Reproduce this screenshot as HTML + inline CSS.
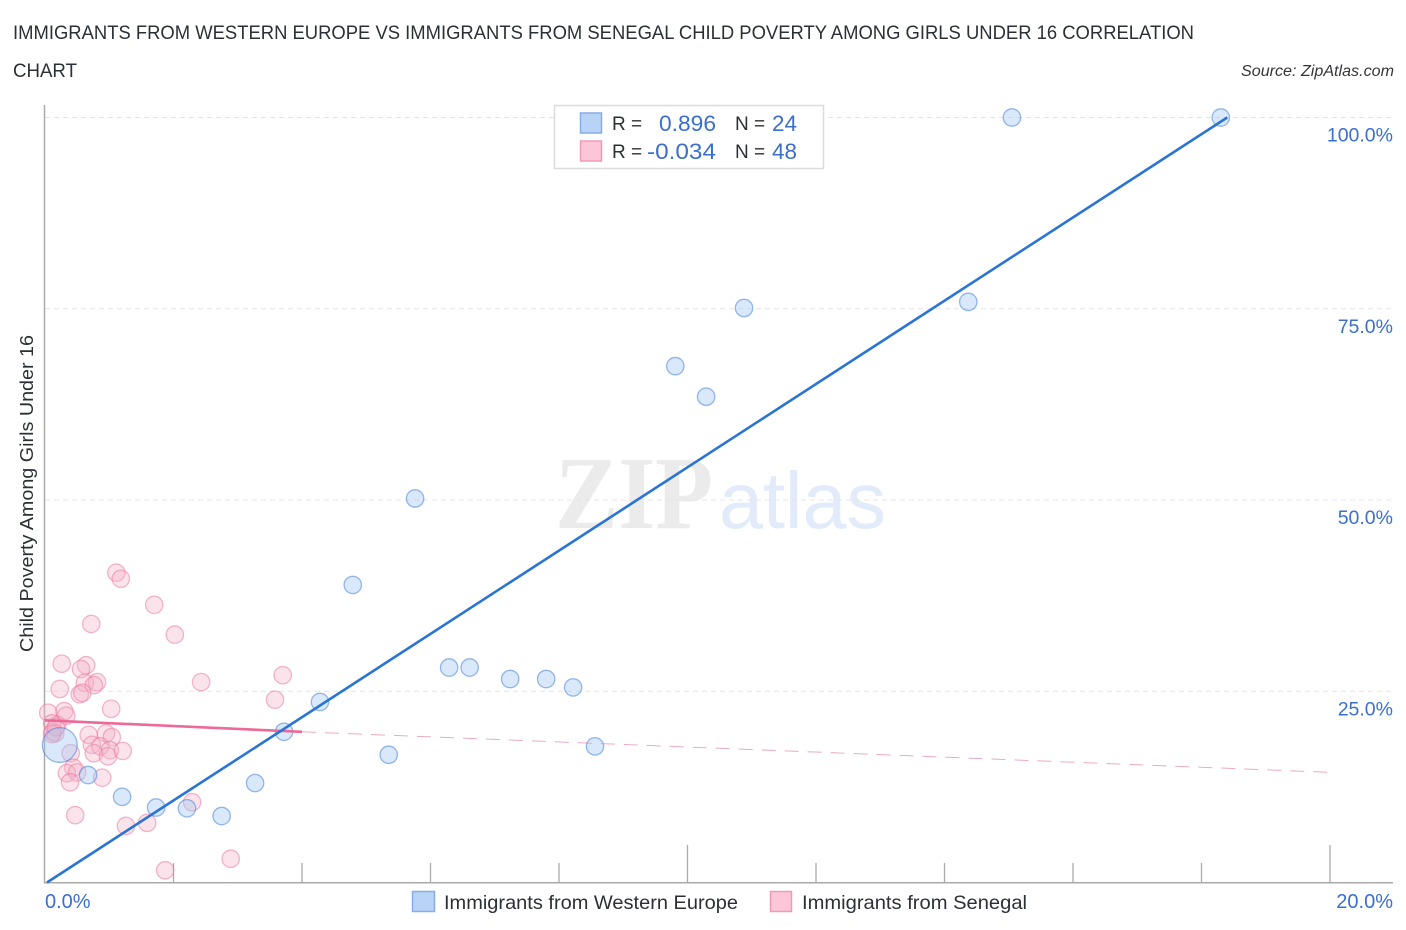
<!DOCTYPE html>
<html>
<head>
<meta charset="utf-8">
<title>Child Poverty Correlation Chart</title>
<style>
html,body{margin:0;padding:0;background:#fff;width:1406px;height:930px;overflow:hidden}
svg{display:block;font-family:"Liberation Sans",sans-serif}
</style>
</head>
<body>
<svg id="chart" width="1406" height="930" viewBox="0 0 1406 930" xmlns="http://www.w3.org/2000/svg">
  <text x="13" y="39" font-size="19" fill="#2b2f36" textLength="1181" lengthAdjust="spacingAndGlyphs">IMMIGRANTS FROM WESTERN EUROPE VS IMMIGRANTS FROM SENEGAL CHILD POVERTY AMONG GIRLS UNDER 16 CORRELATION</text>
  <text x="13" y="77" font-size="19" fill="#2b2f36" textLength="64" lengthAdjust="spacingAndGlyphs">CHART</text>
  <text x="1394" y="76" font-size="15.5" font-style="italic" fill="#33373d" text-anchor="end" textLength="153" lengthAdjust="spacingAndGlyphs">Source: ZipAtlas.com</text>

  <text x="555" y="528" font-family="'Liberation Serif',serif" font-size="104" font-weight="700" fill="#ebebeb" textLength="158" lengthAdjust="spacingAndGlyphs">ZIP</text>
  <text x="719" y="528" font-size="80" fill="#e2ebf9" textLength="167" lengthAdjust="spacingAndGlyphs">atlas</text>

  <g id="grid"></g>
  <g id="axes"></g>
  <g id="pinkPoints"></g>
  <g id="bluePoints"></g>
  <g id="lines"></g>
  <g id="tickLabels"></g>

  <text transform="translate(33 652) rotate(-90)" font-size="18" fill="#2b2f36" textLength="317" lengthAdjust="spacingAndGlyphs">Child Poverty Among Girls Under 16</text>

  <g>
    <rect x="554.5" y="105.5" width="269" height="63" fill="#fff" stroke="#dcdcdc" stroke-width="1.5"/>
    <rect x="580.5" y="113" width="21" height="20" fill="#b9d3f7" stroke="#85ace6" stroke-width="1.5"/>
    <rect x="580.5" y="141" width="21" height="20" fill="#fcc6d8" stroke="#f09ab8" stroke-width="1.5"/>
    <text x="612" y="130" font-size="19" fill="#2b2f36">R =</text>
    <text x="716" y="131" font-size="22" fill="#3a6fd0" text-anchor="end" textLength="57" lengthAdjust="spacingAndGlyphs">0.896</text>
    <text x="735" y="130" font-size="19" fill="#2b2f36">N =</text>
    <text x="772" y="131" font-size="22" fill="#3a6fd0" textLength="25" lengthAdjust="spacingAndGlyphs">24</text>
    <text x="612" y="158" font-size="19" fill="#2b2f36">R =</text>
    <text x="716" y="159" font-size="22" fill="#3a6fd0" text-anchor="end" textLength="69" lengthAdjust="spacingAndGlyphs">-0.034</text>
    <text x="735" y="158" font-size="19" fill="#2b2f36">N =</text>
    <text x="772" y="159" font-size="22" fill="#3a6fd0" textLength="25" lengthAdjust="spacingAndGlyphs">48</text>
  </g>

  <g>
    <rect x="412.5" y="891.5" width="22" height="20" fill="#b9d3f7" stroke="#85ace6" stroke-width="1.5"/>
    <text x="444" y="909" font-size="19.5" fill="#2b2f36" textLength="294" lengthAdjust="spacingAndGlyphs">Immigrants from Western Europe</text>
    <rect x="770.5" y="891.5" width="21" height="20" fill="#fcc6d8" stroke="#f09ab8" stroke-width="1.5"/>
    <text x="802" y="909" font-size="19.5" fill="#2b2f36" textLength="225" lengthAdjust="spacingAndGlyphs">Immigrants from Senegal</text>
  </g>
</svg>
<script>
const blueX = [15.05,18.30,14.37,10.88,9.81,10.29,5.76,4.79,6.29,6.61,7.24,7.80,8.22,4.28,8.56,3.72,5.35,0.67,3.27,1.20,1.73,2.21,2.75,0.23];
const blueY = [100,100,75.9,75.1,67.5,63.5,50.2,38.9,28.1,28.1,26.6,26.6,25.5,23.6,17.8,19.7,16.7,14.05,13.0,11.2,9.8,9.7,8.69,17.97];
const blueWeight = [1,1,1,1,1,1,1,1,1,1,1,1,1,1,1,1,1,1,1,1,1,1,1,4];
const pinkX = [1.11,1.18,1.70,0.72,2.02,0.26,0.64,0.56,0.23,0.62,0.81,0.76,0.54,0.58,2.43,3.70,3.58,1.03,0.30,0.33,0.05,0.19,0.11,0.12,0.16,0.11,0.17,0.68,0.95,1.04,0.73,0.86,0.76,1.01,0.98,1.21,0.40,0.44,0.34,0.50,0.39,0.89,0.47,1.26,1.59,2.29,2.89,1.87];
const pinkY = [40.5,39.7,36.3,33.8,32.4,28.6,28.4,27.9,25.3,26.1,26.2,25.8,24.6,24.8,26.2,27.1,23.9,22.7,22.4,21.8,22.2,20.6,20.8,19.7,19.5,19.4,20.3,19.3,19.5,19.0,18.0,17.8,16.9,17.3,16.5,17.2,16.9,15.0,14.3,14.4,13.1,13.7,8.8,7.4,7.8,10.5,3.1,1.6];
const blueTrendX = [0.03,18.4];
const blueTrendY = [0,100];
const pinkSolidX = [0,4];
const pinkSolidY = [21.2,19.7];
const pinkDashX = [4,20];
const pinkDashY = [19.7,14.4];
const yTickValues = [100,75,50,25];
const yTickLabels = ["100.0%","75.0%","50.0%","25.0%"];
const xTickValues = [2,4,6,8,10,12,14,16,18,20];
const xMajorTicks = [10,20];
const xEndLabels = ["0.0%","20.0%"];

const NS = "http://www.w3.org/2000/svg";
function sx(v){ return 45 + v * 64.25; }
function sy(v){ return 882.5 - v * 7.65; }
function mk(parent, tag, attrs){
  const el = document.createElementNS(NS, tag);
  for (const k in attrs) el.setAttribute(k, attrs[k]);
  document.getElementById(parent).appendChild(el);
  return el;
}

yTickValues.forEach(function(v, i){
  const g = mk("grid", "line", {x1:45, x2:1393, y1:sy(v), y2:sy(v), stroke:"#e4e4e4", "stroke-width":1, "stroke-dasharray":"5 4"});
  
  
  const t = mk("tickLabels", "text", {x:1393, y:sy(v) + 24, "font-size":19.5, fill:"#3a6fd0", "text-anchor":"end"});
  
  
  t.textContent = yTickLabels[i];
});

const yAxis = mk("axes", "line", {x1:44.5, x2:44.5, y1:105, y2:883.5, stroke:"#aaaaaa", "stroke-width":1.5});


const xAxis = mk("axes", "line", {x1:44, x2:1393, y1:882.8, y2:882.8, stroke:"#aaaaaa", "stroke-width":1.5});



xTickValues.forEach(function(v){
  const top = xMajorTicks.indexOf(v) >= 0 ? 845 : 863;
  const tk = mk("axes", "line", {x1:sx(v), x2:sx(v), y1:top, y2:883, stroke:"#aaaaaa", "stroke-width":1.3});
  
  
});

const xl0 = mk("tickLabels", "text", {x:45, y:908, "font-size":20, fill:"#3a6fd0"});


xl0.textContent = xEndLabels[0];
const xl1 = mk("tickLabels", "text", {x:1393, y:908, "font-size":20, fill:"#3a6fd0", "text-anchor":"end"});


xl1.textContent = xEndLabels[1];

pinkX.forEach(function(v, i){
  const c = mk("pinkPoints", "circle", {cx:sx(v), cy:sy(pinkY[i]), r:8.7, fill:"rgba(245,178,200,0.36)", stroke:"rgba(234,125,162,0.55)", "stroke-width":1.3});
  
  
});
blueX.forEach(function(v, i){
  const c = mk("bluePoints", "circle", {cx:sx(v), cy:sy(blueY[i]), r:8.7 * Math.sqrt(blueWeight[i]), fill:"rgba(165,200,243,0.42)", stroke:"rgba(70,130,215,0.55)", "stroke-width":1.3});
  
  
});

const pinkDash = mk("lines", "line", {x1:sx(pinkDashX[0]), y1:sy(pinkDashY[0]), x2:sx(pinkDashX[1]), y2:sy(pinkDashY[1]), stroke:"#e58fae", "stroke-width":1, "stroke-dasharray":"14 9", opacity:0.75});


const pinkSolid = mk("lines", "line", {x1:sx(pinkSolidX[0]), y1:sy(pinkSolidY[0]), x2:sx(pinkSolidX[1]), y2:sy(pinkSolidY[1]), stroke:"#ec6a9a", "stroke-width":2.6});


const blueTrend = mk("lines", "line", {x1:sx(blueTrendX[0]), y1:sy(blueTrendY[0]), x2:sx(blueTrendX[1]), y2:sy(blueTrendY[1]), stroke:"#2a74d3", "stroke-width":2.6});


</script>
</body>
</html>
